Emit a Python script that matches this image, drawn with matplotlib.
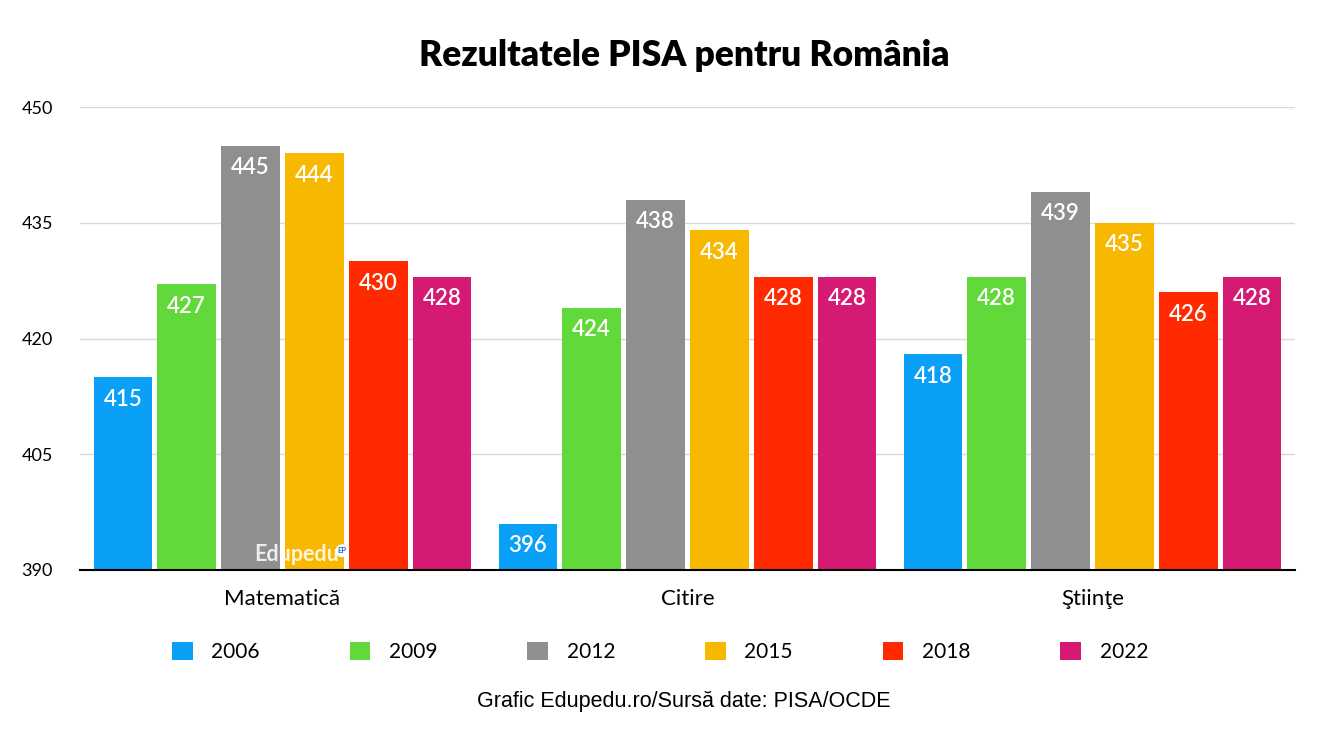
import numpy as np
import matplotlib
matplotlib.use("Agg")
from matplotlib import pyplot as plt

# data
categories = ["Matematică", "Citire", "Ştiinţe"]
years = ["2006", "2009", "2012", "2015", "2018", "2022"]
scores = {
    "2006": [415, 396, 418],
    "2009": [427, 424, 428],
    "2012": [445, 438, 439],
    "2015": [444, 434, 435],
    "2018": [430, 428, 426],
    "2022": [428, 428, 428],
}
colors = ["#0aa0f7", "#62d93a", "#8f8f8f", "#f9b800", "#ff2a00", "#d41a72"]
yticks = [390, 405, 420, 435, 450]

plt.rcParams['font.family'] = ['Lato', 'DejaVu Sans']

fig = plt.figure(figsize=(13.2, 7.43), dpi=100)
ax = fig.add_axes([80/1320, 173/743, 1215/1320, 463/743])

x = np.arange(len(categories))
slot = 0.946 / len(years)
width = slot - 0.013
for i, yr in enumerate(years):
    pos = x - 0.473 + slot * (i + 0.5)
    bars = ax.bar(pos, np.array(scores[yr]) - 390, width, bottom=390,
                  color=colors[i], label=yr, zorder=3)
    for b, v in zip(bars, scores[yr]):
        ax.text(b.get_x() + b.get_width() / 2, v - 1.5, str(v),
                ha='center', va='top', color='white', fontsize=16,
                fontweight='semibold', zorder=4)

ax.set_xlim(-0.5, 2.5)
ax.set_ylim(390, 450)
ax.set_yticks(yticks)
ax.set_yticklabels([str(t) for t in yticks], fontsize=13)
ax.set_xticks(x)
ax.set_xticklabels(categories, fontsize=16)
ax.tick_params(axis='both', length=0)
ax.tick_params(axis='x', pad=14)
for lbl in ax.get_yticklabels():
    lbl.set_horizontalalignment('left')
ax.yaxis.set_tick_params(pad=42)
ax.grid(axis='y', color='#d9d9d9', linewidth=1, zorder=0)
for s in ['top', 'right', 'left']:
    ax.spines[s].set_visible(False)
ax.spines['bottom'].set_color('black')
ax.spines['bottom'].set_linewidth(1.5)
ax.spines['bottom'].set_zorder(5)

# watermark
ax.text(0.035, 390.6, "Edupedu", ha='center', va='bottom', fontsize=15.5,
        fontweight='bold', color='white', alpha=0.85, zorder=4)
ax.text(0.147, 392.5, "EP", ha='center', va='center', fontsize=5.5,
        fontweight='bold', color='#1f6fd1', zorder=4,
        bbox=dict(boxstyle='circle,pad=0.25', fc='white', ec='none'))

fig.text(0.518, 1 - 55/743, "Rezultatele PISA pentru România", ha='center',
         va='center', fontsize=25.5, fontweight='heavy')

fig.legend(loc='center', bbox_to_anchor=(0.5, 1 - 652/743), ncol=6,
           frameon=False, fontsize=15, handlelength=1.0, handleheight=1.0,
           columnspacing=4.3, handletextpad=0.9)

fig.text(0.518, 1 - 702/743, "Grafic Edupedu.ro/Sursă date: PISA/OCDE",
         ha='center', va='center', fontsize=15.5, family='Liberation Sans')

plt.savefig("out.png", dpi=100)
